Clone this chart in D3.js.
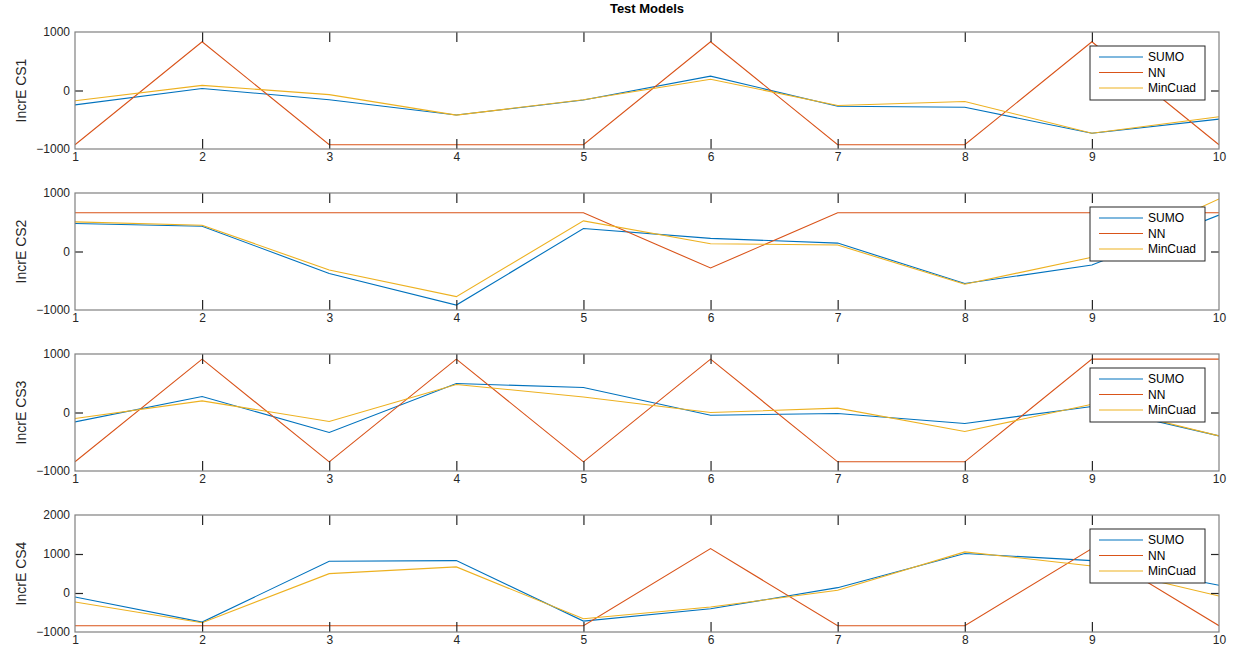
<!DOCTYPE html>
<html>
<head>
<meta charset="utf-8">
<script src="https://cdn.jsdelivr.net/npm/d3@7"></script>
<style>
  body { margin: 0; background: #ffffff; }
  svg { font-family: "Liberation Sans", Arial, Helvetica, sans-serif; }
</style>
</head>
<body>
<div class="chart"></div>
<script>
// x positions 1..10
var xValues = [1, 2, 3, 4, 5, 6, 7, 8, 9, 10];
var seriesNames = ["SUMO", "NN", "MinCuad"];
var seriesColors = ["#0072BD", "#D95319", "#EDB120"];
var yLabels = ["IncrE CS1", "IncrE CS2", "IncrE CS3", "IncrE CS4"];
var yDomains = [[-1000, 1000], [-1000, 1000], [-1000, 1000], [-1000, 2000]];
var yTickValues = [[-1000, 0, 1000], [-1000, 0, 1000], [-1000, 0, 1000], [-1000, 0, 1000, 2000]];

var cs1Sumo = [-245, 35, -157, -420, -163, 245, -268, -286, -730, -490];
var cs1NN = [-927, 834, -927, -927, -927, 834, -927, -927, 834, -927];
var cs1MinCuad = [-175, 87, -70, -420, -157, 192, -257, -187, -730, -449];

var cs2Sumo = [478, 432, -375, -916, 392, 225, 144, -548, -231, 622];
var cs2NN = [663, 663, 663, 663, 663, -282, 663, 663, 663, 663];
var cs2MinCuad = [507, 450, -317, -772, 524, 133, 110, -559, -98, 899];

var cs3Sumo = [-160, 274, -342, 496, 427, -46, -17, -188, 103, -399];
var cs3NN = [-843, 912, -843, 912, -843, 912, -843, -843, 912, 912];
var cs3MinCuad = [-103, 199, -154, 479, 265, 0, 74, -325, 142, -399];

var cs4Sumo = [-103, -746, 814, 831, -720, -403, 137, 1011, 831, 197];
var cs4NN = [-840, -840, -840, -840, -840, 1140, -840, -840, 1140, -840];
var cs4MinCuad = [-231, -763, 497, 669, -660, -360, 69, 1054, 694, -77];

var panels = [
  [cs1Sumo, cs1NN, cs1MinCuad],
  [cs2Sumo, cs2NN, cs2MinCuad],
  [cs3Sumo, cs3NN, cs3MinCuad],
  [cs4Sumo, cs4NN, cs4MinCuad]
];

var svgWidth = 1235;
var svgHeight = 657;
var margin = { left: 75, right: 16 };
var panelTops = [32, 193, 354, 515];
var panelHeight = 117;
var width = svgWidth - margin.left - margin.right;
var axisColor = "#808080";
var textColor = "#262626";

var svg = d3.select(".chart")
  .append("svg")
  .attr("width", svgWidth)
  .attr("height", svgHeight);

// title
svg.append("text")
  .attr("x", margin.left + width / 2)
  .attr("y", 13)
  .attr("text-anchor", "middle")
  .attr("font-size", "13px")
  .attr("font-weight", "bold")
  .attr("fill", "#000")
  .text("Test Models");

var xScale = d3.scaleLinear()
  .domain([1, 10])
  .range([0, width]);

panels.forEach(function(series, i) {
  var g = svg.append("g")
    .attr("transform", `translate(${margin.left}, ${panelTops[i]})`);

  var yScale = d3.scaleLinear()
    .domain(yDomains[i])
    .range([panelHeight, 0]);

  // lines
  var line = d3.line()
    .x(function(d, j) { return xScale(xValues[j]); })
    .y(function(d) { return yScale(d); });

  var clipId = "clip" + i;
  g.append("clipPath").attr("id", clipId)
    .append("rect").attr("width", width).attr("height", panelHeight);

  series.forEach(function(vals, k) {
    g.append("path")
      .datum(vals)
      .attr("clip-path", `url(#${clipId})`)
      .attr("d", line)
      .attr("fill", "none")
      .attr("stroke", seriesColors[k])
      .attr("stroke-width", 1.1);
  });

  // bottom axis with inward ticks
  var xAxis = d3.axisBottom(xScale).tickValues(xValues).tickSize(-10).tickPadding(3).tickSizeOuter(0);
  var gx = g.append("g")
    .attr("transform", `translate(0, ${panelHeight})`)
    .call(xAxis);

  // top ticks
  var gxt = g.append("g")
    .call(d3.axisTop(xScale).tickValues(xValues).tickSize(-10).tickFormat("").tickSizeOuter(0));

  var yAxis = d3.axisLeft(yScale).tickValues(yTickValues[i]).tickSize(-8).tickPadding(5)
    .tickFormat(d3.format("d")).tickSizeOuter(0);
  var gy = g.append("g").call(yAxis);

  var gyr = g.append("g")
    .attr("transform", `translate(${width}, 0)`)
    .call(d3.axisRight(yScale).tickValues(yTickValues[i]).tickSize(-8).tickFormat("").tickSizeOuter(0));

  [gx, gxt, gy, gyr].forEach(function(a) {
    a.select(".domain").remove();
    a.selectAll(".tick line").attr("stroke", "#262626").attr("stroke-width", 1.2);
    a.selectAll(".tick text").attr("fill", textColor).attr("font-size", "12px")
      .attr("font-family", "Liberation Sans, Arial, sans-serif");
  });
  // hide ticks sitting on the box edges
  gy.selectAll(".tick").filter(function(d) { return d === yDomains[i][0] || d === yDomains[i][1]; })
    .select("line").remove();
  gyr.selectAll(".tick").filter(function(d) { return d === yDomains[i][0] || d === yDomains[i][1]; })
    .select("line").remove();
  gx.selectAll(".tick").filter(function(d) { return d === 1 || d === 10; }).select("line").remove();
  gxt.selectAll(".tick").filter(function(d) { return d === 1 || d === 10; }).select("line").remove();

  // box
  g.append("rect")
    .attr("width", width)
    .attr("height", panelHeight)
    .attr("fill", "none")
    .attr("stroke", axisColor)
    .attr("stroke-width", 1.2);

  // y label
  svg.append("text")
    .attr("transform", `translate(26, ${panelTops[i] + panelHeight / 2}) rotate(-90)`)
    .attr("text-anchor", "middle")
    .attr("font-size", "14px")
    .attr("fill", textColor)
    .text(yLabels[i]);

  // legend
  var legW = 115, legH = 54;
  var lg = g.append("g")
    .attr("transform", `translate(${width - 14 - legW}, 14)`);
  lg.append("rect")
    .attr("width", legW)
    .attr("height", legH)
    .attr("fill", "#fff")
    .attr("stroke", "#262626")
    .attr("stroke-width", 1);
  seriesNames.forEach(function(name, k) {
    var yy = 11 + k * 15.5;
    lg.append("line")
      .attr("x1", 9).attr("x2", 53)
      .attr("y1", yy).attr("y2", yy)
      .attr("stroke", seriesColors[k])
      .attr("stroke-width", 1.1);
    lg.append("text")
      .attr("x", 58)
      .attr("y", yy + 4)
      .attr("font-size", "12px")
      .attr("fill", "#000")
      .text(name);
  });
});
</script>
</body>
</html>
